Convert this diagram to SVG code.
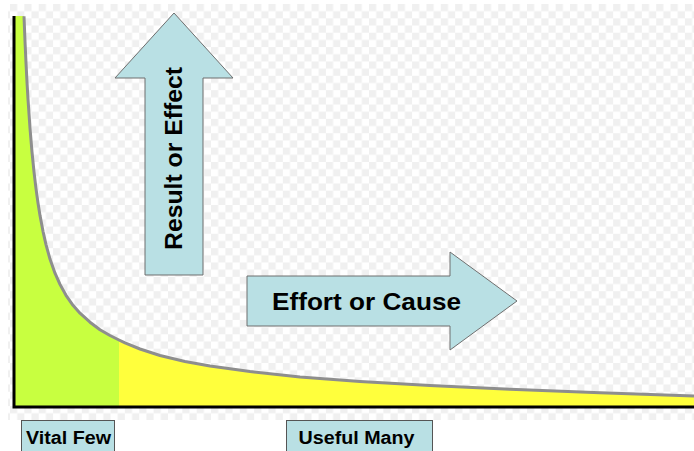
<svg xmlns="http://www.w3.org/2000/svg" width="694" height="451" viewBox="0 0 694 451">
  <style>
    .lbl { font-family: "Liberation Sans", Arial, sans-serif; font-weight: bold; fill: #000; }
    .block { fill: #b9e0e4; stroke: #6f6f6f; stroke-width: 1; }
    .box { fill: #b9e0e4; stroke: #555; stroke-width: 1; }
    .axis { stroke: #000; stroke-width: 3; fill: none; }
    .curve { stroke: #8e8e8e; stroke-width: 3; fill: none; stroke-linejoin: round; stroke-linecap: butt; }
  </style>
  <defs>
    <pattern id="checker" patternUnits="userSpaceOnUse" x="10" y="4" width="14.36" height="14.36">
      <rect x="0" y="0" width="14.36" height="14.36" fill="#ffffff"/>
      <rect x="0" y="0" width="7.18" height="7.18" fill="#f0f0f0"/>
      <rect x="7.18" y="7.18" width="7.18" height="7.18" fill="#f0f0f0"/>
    </pattern>
    <path id="curvePath" d="M24,16.3 L25,41.2 L26,62.9 L27,82.1 L28,99.2 L30,128.2 L32,152 L34,171.8 L36,188.6 L38,203 L40,215.4 L43,231.3 L46,244.6 L50,259.1 L55,273.2 L60,284.4 L66,295.3 L73,305.3 L80,313.2 L90,322.2 L100,329.7 L110,335.5 L119,340 L125,342.9 L140,349 L160,355.5 L185,361.5 L210,366 L250,371.6 L300,377.1 L360,381.5 L430,385.5 L510,389.3 L600,392.8 L694,396.1"/>
    <path id="areaPath" d="M15,16 L24,16.3 L25,41.2 L26,62.9 L27,82.1 L28,99.2 L30,128.2 L32,152 L34,171.8 L36,188.6 L38,203 L40,215.4 L43,231.3 L46,244.6 L50,259.1 L55,273.2 L60,284.4 L66,295.3 L73,305.3 L80,313.2 L90,322.2 L100,329.7 L110,335.5 L119,340 L125,342.9 L140,349 L160,355.5 L185,361.5 L210,366 L250,371.6 L300,377.1 L360,381.5 L430,385.5 L510,389.3 L600,392.8 L694,396.1 L694,407 L15,407 Z"/>
    <clipPath id="vitalClip">
      <rect x="0" y="0" width="119" height="451"/>
    </clipPath>
  </defs>

  <rect id="background" x="8" y="4" width="686" height="416" fill="url(#checker)"/>

  <g id="chart">
    <use href="#areaPath" fill="#ffff3c"/>
    <use href="#areaPath" fill="#c8ff40" clip-path="url(#vitalClip)"/>
    <use href="#curvePath" class="curve"/>
    <path class="axis" d="M14,16 L14,407 L694,407"/>
  </g>

  <g id="result-arrow">
    <polygon class="block" points="174,13 233,78 203,78 203,275 145,275 145,78 115,78"/>
    <text class="lbl" font-size="24" text-anchor="middle" transform="translate(182,158.5) rotate(-90)" textLength="183" lengthAdjust="spacingAndGlyphs">Result or Effect</text>
  </g>

  <g id="effort-arrow">
    <polygon class="block" points="247,276 450,276 450,252 517,301 450,350 450,326 247,326"/>
    <text class="lbl" font-size="24" x="272" y="310" textLength="189" lengthAdjust="spacingAndGlyphs">Effort or Cause</text>
  </g>

  <g id="vital-few">
    <rect class="box" x="21.5" y="420.5" width="93" height="36"/>
    <text class="lbl" font-size="17.5" x="26" y="443.5" textLength="85" lengthAdjust="spacingAndGlyphs">Vital Few</text>
  </g>

  <g id="useful-many">
    <rect class="box" x="286.5" y="420.5" width="146" height="36"/>
    <text class="lbl" font-size="17.5" x="298.5" y="443.5" textLength="116" lengthAdjust="spacingAndGlyphs">Useful Many</text>
  </g>

  <g id="connectors"/>
</svg>
